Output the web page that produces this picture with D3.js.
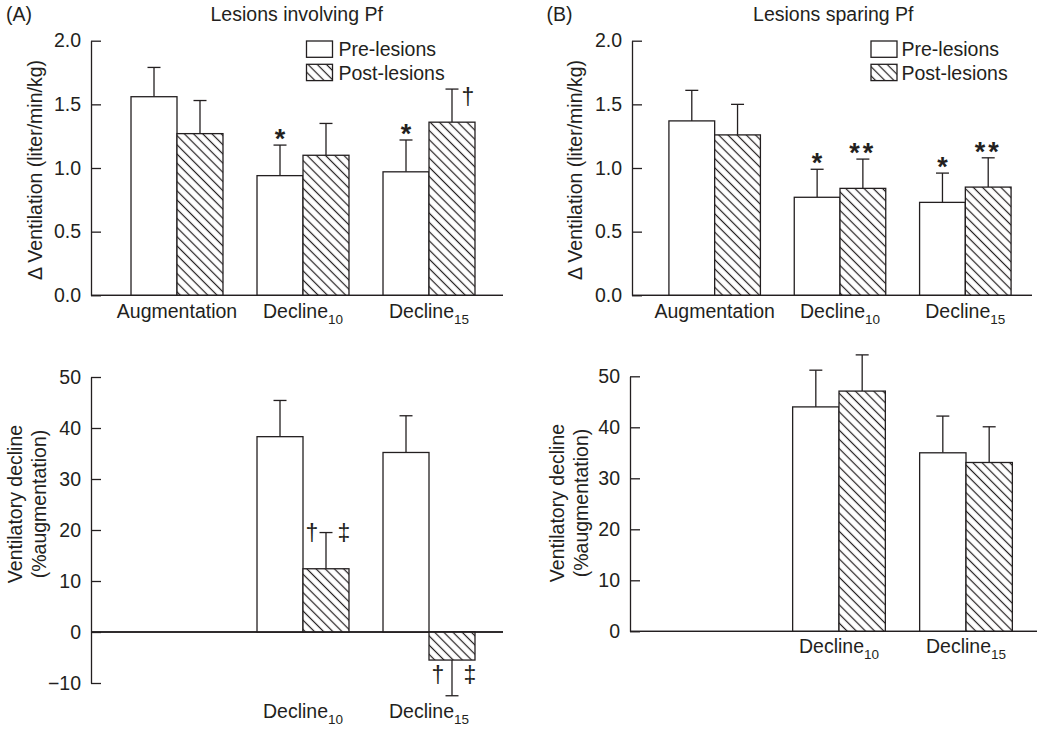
<!DOCTYPE html>
<html>
<head>
<meta charset="utf-8">
<script src="https://cdn.jsdelivr.net/npm/d3@7"></script>
<style>
  html, body { margin: 0; padding: 0; background: #fff; }
  text { font-family: "Liberation Sans", Arial, Helvetica, sans-serif; fill: #231f20; }
</style>
</head>
<body>
<svg id="chart" width="1050" height="731"></svg>
<script>
// ---------------- DATA ----------------
const groups = ["Augmentation", "Decline10", "Decline15"];
const groupBase = ["Augmentation", "Decline", "Decline"];
const groupSub = ["", "10", "15"];
const seriesNames = ["Pre-lesions", "Post-lesions"];

// Panel A top: ΔVentilation, lesions involving Pf
const aTopPre = [1.56, 0.94, 0.97];
const aTopPreSem = [0.23, 0.24, 0.25];
const aTopPost = [1.27, 1.10, 1.36];
const aTopPostSem = [0.26, 0.25, 0.26];

// Panel B top: ΔVentilation, lesions sparing Pf
const bTopPre = [1.37, 0.77, 0.73];
const bTopPreSem = [0.24, 0.22, 0.23];
const bTopPost = [1.26, 0.84, 0.85];
const bTopPostSem = [0.24, 0.23, 0.23];

// Panel A bottom: ventilatory decline (% augmentation)
const aBotPre = [null, 38.3, 35.2];
const aBotPreSem = [null, 7.1, 7.2];
const aBotPost = [null, 12.4, -5.5];
const aBotPostSem = [null, 7.1, 7.0];

// Panel B bottom
const bBotPre = [null, 44.0, 35.0];
const bBotPreSem = [null, 7.2, 7.2];
const bBotPost = [null, 47.1, 33.1];
const bBotPostSem = [null, 7.1, 7.0];

const topTicks = [0, 0.5, 1.0, 1.5, 2.0];
const aBotTicks = [-10, 0, 10, 20, 30, 40, 50];
const bBotTicks = [0, 10, 20, 30, 40, 50];

const titles = ["Lesions involving Pf", "Lesions sparing Pf"];
const panelLetters = ["(A)", "(B)"];
const topYLabel = "\u0394 Ventilation (liter/min/kg)";
const botYLabel = ["Ventilatory decline", "(%augmentation)"];

// annotations: group, series index, symbol, placement
const aTopNotes = [
  {g: "Decline10", s: 0, t: "*", p: "above"},
  {g: "Decline15", s: 0, t: "*", p: "above"},
  {g: "Decline15", s: 1, t: "\u2020", p: "right"}
];
const bTopNotes = [
  {g: "Decline10", s: 0, t: "*", p: "above"},
  {g: "Decline10", s: 1, t: "**", p: "above"},
  {g: "Decline15", s: 0, t: "*", p: "above"},
  {g: "Decline15", s: 1, t: "**", p: "above"}
];
const aBotNotes = [
  {g: "Decline10", s: 1, t: "\u2020", p: "flankL"},
  {g: "Decline10", s: 1, t: "\u2021", p: "flankR"},
  {g: "Decline15", s: 1, t: "\u2020", p: "flankL"},
  {g: "Decline15", s: 1, t: "\u2021", p: "flankR"}
];

// ---------------- DRAWING ----------------
const ink = "#231f20";
const FS = 19.5;
const svg = d3.select("#chart");
const defs = svg.append("defs");
const pat = defs.append("pattern")
  .attr("id", "hatch")
  .attr("patternUnits", "userSpaceOnUse")
  .attr("width", 6.5).attr("height", 6.5)
  .attr("patternTransform", "rotate(-45)");
pat.append("rect").attr("width", 6.5).attr("height", 6.5).attr("fill", "#fff");
pat.append("line").attr("x1", 3.25).attr("x2", 3.25).attr("y1", -1).attr("y2", 7.5)
  .attr("stroke", ink).attr("stroke-width", 1.2);

function drawPanel(cfg) {
  const g = svg.append("g");
  const y = d3.scaleLinear().domain(cfg.domain).range(cfg.yRange);
  const x = d3.scaleBand().domain(groups).range(cfg.bandRange)
    .paddingInner(0.27).paddingOuter(0.135);
  const bw = x.bandwidth() / 2;

  // y axis (ticks inward)
  const yAxis = d3.axisLeft(y).tickValues(cfg.ticks)
    .tickSizeInner(-10).tickSizeOuter(0).tickPadding(10)
    .tickFormat(cfg.fmt);
  const ya = g.append("g").attr("transform", `translate(${cfg.axisX},0)`).call(yAxis);
  ya.selectAll("path, line").attr("stroke", ink).attr("stroke-width", 1.3);
  ya.selectAll("text").attr("font-size", FS).attr("fill", ink)
    .style("font-family", '"Liberation Sans", Arial, sans-serif');

  // x axis baseline at zero
  g.append("line")
    .attr("x1", cfg.axisX).attr("x2", cfg.axisEnd)
    .attr("y1", y(0)).attr("y2", y(0))
    .attr("stroke", ink).attr("stroke-width", 1.3);

  // bars
  const series = [
    {vals: cfg.pre, sem: cfg.preSem, fill: "#fff"},
    {vals: cfg.post, sem: cfg.postSem, fill: "url(#hatch)"}
  ];
  const rows = [];
  series.forEach((s, si) => {
    groups.forEach((gr, gi) => {
      if (s.vals[gi] == null) return;
      rows.push({g: gr, si, v: s.vals[gi], e: s.sem[gi], fill: s.fill,
                 x: x(gr) + si * bw});
    });
  });
  // error bars (behind the bars)
  const eb = g.append("g");
  rows.forEach(r => {
    const sign = r.v >= 0 ? 1 : -1;
    const yEnd = y(r.v + sign * r.e);
    const cx = r.x + bw / 2;
    eb.append("line").attr("x1", cx).attr("x2", cx).attr("y1", y(r.v)).attr("y2", yEnd)
      .attr("stroke", ink).attr("stroke-width", 1.3);
    eb.append("line").attr("x1", cx - 6.5).attr("x2", cx + 6.5).attr("y1", yEnd).attr("y2", yEnd)
      .attr("stroke", ink).attr("stroke-width", 1.3);
  });
  g.append("g").selectAll("rect").data(rows).join("rect")
    .attr("x", d => d.x).attr("width", bw)
    .attr("y", d => Math.min(y(d.v), y(0)))
    .attr("height", d => Math.abs(y(d.v) - y(0)))
    .attr("fill", d => d.fill)
    .attr("stroke", ink).attr("stroke-width", 1.3);
  // redraw zero line on top
  g.append("line")
    .attr("x1", cfg.axisX).attr("x2", cfg.axisEnd)
    .attr("y1", y(0)).attr("y2", y(0))
    .attr("stroke", ink).attr("stroke-width", 1.3);

  // x labels
  groups.forEach((gr, gi) => {
    if (!cfg.showLabel[gi]) return;
    const t = g.append("text")
      .attr("x", x(gr) + x.bandwidth() / 2).attr("y", cfg.labelY)
      .attr("text-anchor", "middle").attr("font-size", FS)
      .text(groupBase[gi]);
    if (groupSub[gi]) {
      t.append("tspan").attr("dy", 6).attr("font-size", 13.5).text(groupSub[gi]);
    }
  });

  // y labels
  const lx = cfg.yLabelX;
  cfg.yLabel.forEach((lbl, i) => {
    g.append("text")
      .attr("transform", `translate(${lx[i]},${cfg.yLabelY}) rotate(-90)`)
      .attr("text-anchor", "middle").attr("dominant-baseline", "central")
      .attr("font-size", FS).text(lbl);
  });

  // annotations
  (cfg.notes || []).forEach(n => {
    const r = rows.find(d => d.g === n.g && d.si === n.s);
    const cx = r.x + bw / 2;
    const sign = r.v >= 0 ? 1 : -1;
    const yEnd = y(r.v + sign * r.e);
    if (n.p === "above") {
      const fs = 27;
      const cy = yEnd - 13;
      g.append("text").attr("x", cx).attr("y", cy + 0.6 * fs)
        .attr("text-anchor", "middle").attr("font-size", fs).attr("font-weight", "bold")
        .attr("letter-spacing", n.t.length > 1 ? 3 : 0)
        .text(n.t);
    } else if (n.p === "right") {
      g.append("text").attr("x", cx + 16).attr("y", yEnd + 8)
        .attr("text-anchor", "middle").attr("dominant-baseline", "central")
        .attr("font-size", 23).text(n.t);
    } else {
      const dx = n.p === "flankL" ? -14 : 18;
      const cy = r.v >= 0 ? yEnd : y(r.v) + 15;
      g.append("text").attr("x", cx + dx).attr("y", cy)
        .attr("text-anchor", "middle").attr("dominant-baseline", "central")
        .attr("font-size", 23).text(n.t);
    }
  });
  return {x, y};
}

const fmt1 = d3.format(".1f");
const fmtInt = d => (d < 0 ? "\u2212" + Math.abs(d) : String(d));

drawPanel({
  domain: [0, 2], yRange: [295.3, 40.7], ticks: topTicks, fmt: fmt1,
  axisX: 91, axisEnd: 503, bandRange: [114, 492],
  pre: aTopPre, preSem: aTopPreSem, post: aTopPost, postSem: aTopPostSem,
  showLabel: [true, true, true], labelY: 318,
  yLabel: [topYLabel], yLabelX: [35], yLabelY: 170, notes: aTopNotes
});
drawPanel({
  domain: [0, 2], yRange: [295.3, 40.7], ticks: topTicks, fmt: fmt1,
  axisX: 632, axisEnd: 1032, bandRange: [652, 1028],
  pre: bTopPre, preSem: bTopPreSem, post: bTopPost, postSem: bTopPostSem,
  showLabel: [true, true, true], labelY: 318,
  yLabel: [topYLabel], yLabelX: [575], yLabelY: 170, notes: bTopNotes
});
drawPanel({
  domain: [-10, 50], yRange: [683, 377], ticks: aBotTicks, fmt: fmtInt,
  axisX: 91, axisEnd: 503, bandRange: [114, 492],
  pre: aBotPre, preSem: aBotPreSem, post: aBotPost, postSem: aBotPostSem,
  showLabel: [false, true, true], labelY: 718,
  yLabel: botYLabel, yLabelX: [15, 39], yLabelY: 504, notes: aBotNotes
});
drawPanel({
  domain: [0, 50], yRange: [631.3, 376.3], ticks: bBotTicks, fmt: fmtInt,
  axisX: 630, axisEnd: 1037, bandRange: [648.5, 1029.5],
  pre: bBotPre, preSem: bBotPreSem, post: bBotPost, postSem: bBotPostSem,
  showLabel: [false, true, true], labelY: 653,
  yLabel: botYLabel, yLabelX: [557, 581], yLabelY: 503, notes: []
});

// titles and panel letters
[[6, 296.7], [546.5, 833.3]].forEach((p, i) => {
  svg.append("text").attr("x", p[0]).attr("y", 21).attr("font-size", FS).text(panelLetters[i]);
  svg.append("text").attr("x", p[1]).attr("y", 21).attr("text-anchor", "middle")
    .attr("font-size", FS).text(titles[i]);
});

// legends
[[306.5, 338.5], [871, 901.5]].forEach(p => {
  const lg = svg.append("g");
  seriesNames.forEach((name, i) => {
    lg.append("rect").attr("x", p[0]).attr("y", 41 + i * 23.3).attr("width", 26).attr("height", 16.3)
      .attr("fill", i === 0 ? "#fff" : "url(#hatch)").attr("stroke", ink).attr("stroke-width", 1.3);
    lg.append("text").attr("x", p[1]).attr("y", 56 + i * 24).attr("font-size", FS).text(name);
  });
});
</script>
</body>
</html>
